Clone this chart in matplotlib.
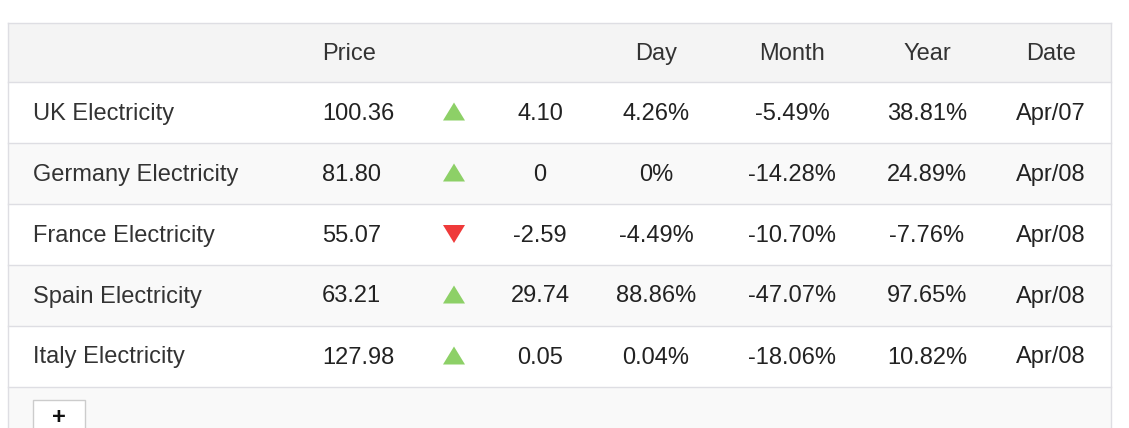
import matplotlib
matplotlib.use("Agg")
import matplotlib.pyplot as plt
from matplotlib.patches import Rectangle, Polygon

names = ["UK Electricity", "Germany Electricity", "France Electricity", "Spain Electricity", "Italy Electricity"]
price = ["100.36", "81.80", "55.07", "63.21", "127.98"]
direction = ["up", "up", "down", "up", "up"]
change = ["4.10", "0", "-2.59", "29.74", "0.05"]
day = ["4.26%", "0%", "-4.49%", "88.86%", "0.04%"]
month = ["-5.49%", "-14.28%", "-10.70%", "-47.07%", "-18.06%"]
year = ["38.81%", "24.89%", "-7.76%", "97.65%", "10.82%"]
date = ["Apr/07", "Apr/08", "Apr/08", "Apr/08", "Apr/08"]
headers = ["", "Price", "", "", "Day", "Month", "Year", "Date"]

W, H = 1129, 428
fig = plt.figure(figsize=(W / 100, H / 100), dpi=100)
ax = fig.add_axes([0, 0, 1, 1])
ax.set_xlim(0, W)
ax.set_ylim(H, 0)
ax.axis("off")

plt.rcParams["font.family"] = ["Liberation Sans", "DejaVu Sans"]
FS = 17
border = "#dedee3"
left, right = 7.5, 1110.5
top, head_h, row_h = 22.5, 59, 61

# header background
ax.add_patch(Rectangle((left, top), right - left, head_h, facecolor="#f4f4f4", edgecolor="none"))
# rows
row_top0 = top + head_h
for i in range(len(names)):
    y0 = row_top0 + i * row_h
    fc = "#ffffff" if i % 2 == 0 else "#f9f9f9"
    ax.add_patch(Rectangle((left, y0), right - left, row_h, facecolor=fc, edgecolor="none"))
# footer
foot_top = row_top0 + len(names) * row_h
ax.add_patch(Rectangle((left, foot_top), right - left, H - foot_top + 5, facecolor="#f9f9f9", edgecolor="none"))

# borders
ax.plot([left, right], [top, top], color=border, lw=1)
for i in range(len(names) + 1):
    y = row_top0 + i * row_h
    ax.plot([left, right], [y, y], color=border, lw=1)
ax.plot([left, left], [top, H + 5], color=border, lw=1)
ax.plot([right, right], [top, H + 5], color=border, lw=1)

# column positions: (x, ha)
cols = [(33, "left"), (322, "left"), (454, "center"), (540, "center"),
        (656, "center"), (792, "center"), (927, "center"), (1051, "center")]

hy = top + head_h / 2 + 1.5
for (x, ha), h in zip(cols, headers):
    if h:
        ax.text(x, hy, h, ha=ha, va="center", fontsize=FS, color="#333333")

for i in range(len(names)):
    yc = row_top0 + i * row_h + row_h / 2
    vals = [names[i], price[i], None, change[i], day[i], month[i], year[i], date[i]]
    for j, ((x, ha), v) in enumerate(zip(cols, vals)):
        if v is None:
            continue
        col = "#333333" if j == 0 else "#222222"
        ax.text(x, yc + 1.5, v, ha=ha, va="center", fontsize=FS, color=col)
    tx = cols[2][0]
    hw, hh = 11, 9
    if direction[i] == "up":
        pts = [(tx - hw, yc + hh - 0.5), (tx + hw, yc + hh - 0.5), (tx, yc - hh - 0.5)]
        c = "#8dd067"
    else:
        pts = [(tx - hw, yc - hh), (tx + hw, yc - hh), (tx, yc + hh)]
        c = "#ef3a3a"
    ax.add_patch(Polygon(pts, closed=True, facecolor=c, edgecolor="none"))

# button
ax.add_patch(Rectangle((32.5, 399.5), 52, 40, facecolor="#ffffff", edgecolor="#cccccc", lw=1))
ax.text(58.5, 417.5, "+", ha="center", va="center", fontsize=17, fontweight="bold", color="#111111")

fig.savefig("out.png", dpi=100)
